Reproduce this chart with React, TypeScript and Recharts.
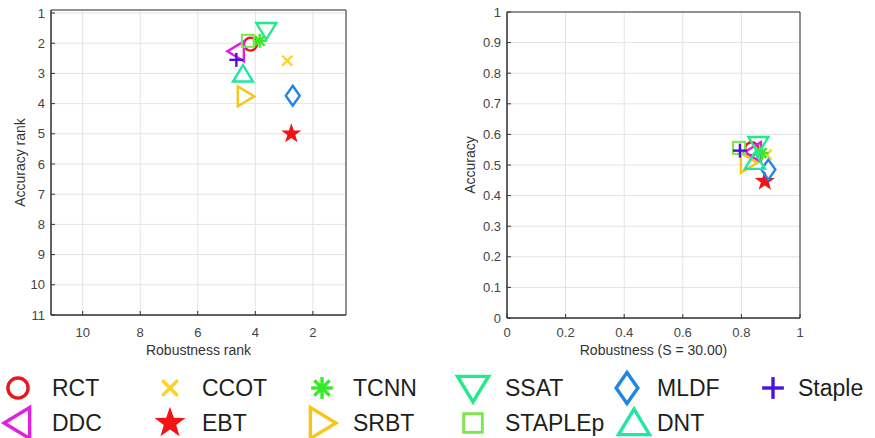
import React from "react"
import { ScatterChart, Scatter, XAxis, YAxis, CartesianGrid, ReferenceArea } from "recharts"

// drawing order = legend column order
const methods = ["RCT", "DDC", "CCOT", "EBT", "TCNN", "SRBT", "SSAT", "STAPLEp", "MLDF", "DNT", "Staple"]
const robustnessRank = [4.17, 4.66, 2.89, 2.75, 3.85, 4.35, 3.62, 4.26, 2.7, 4.43, 4.66]
const accuracyRank = [2.03, 2.27, 2.58, 5.0, 1.92, 3.76, 1.58, 1.92, 3.74, 3.02, 2.55]
const robustness = [0.835, 0.841, 0.886, 0.88, 0.869, 0.824, 0.858, 0.792, 0.892, 0.846, 0.795]
const accuracy = [0.553, 0.542, 0.534, 0.447, 0.539, 0.507, 0.567, 0.556, 0.485, 0.512, 0.547]

const rankXTicks = [2, 4, 6, 8, 10]
const rankYTicks = [1, 2, 3, 4, 5, 6, 7, 8, 9, 10, 11]
const robTicks = [0, 0.2, 0.4, 0.6, 0.8, 1]
const accTicks = [0, 0.1, 0.2, 0.3, 0.4, 0.5, 0.6, 0.7, 0.8, 0.9, 1]

const legendRows = [
  ["RCT", "CCOT", "TCNN", "SSAT", "MLDF", "Staple"],
  ["DDC", "EBT", "SRBT", "STAPLEp", "DNT"],
]

const style: Record<string, { kind: string; color: string }> = {
  RCT: { kind: "o", color: "#e8161e" },
  DDC: { kind: "<", color: "#e21fdf" },
  CCOT: { kind: "x", color: "#ffd126" },
  EBT: { kind: "p", color: "#f01414" },
  TCNN: { kind: "*", color: "#36ea25" },
  SRBT: { kind: ">", color: "#f9c51b" },
  SSAT: { kind: "v", color: "#22ea88" },
  STAPLEp: { kind: "s", color: "#7ce64c" },
  MLDF: { kind: "d", color: "#1f86e6" },
  DNT: { kind: "^", color: "#22e6a4" },
  Staple: { kind: "+", color: "#4a12de" },
}

const font = "'Liberation Sans', Arial, sans-serif"
const tickStyle = { fontSize: 13, fill: "#444", fontFamily: font }

function Mark({ cx, cy, kind, color, k = 1, sw = 2.4 }: any) {
  const p = (pts: number[][]) => pts.map(([a, b]) => `${cx + a * k},${cy + b * k}`).join(" ")
  const line = (x1: number, y1: number, x2: number, y2: number, key?: any) => (
    <line key={key} x1={cx + x1 * k} y1={cy + y1 * k} x2={cx + x2 * k} y2={cy + y2 * k} stroke={color} strokeWidth={sw} />
  )
  switch (kind) {
    case "o":
      return <circle cx={cx} cy={cy} r={6.5 * k} fill="none" stroke={color} strokeWidth={sw} />
    case "s":
      return <rect x={cx - 6 * k} y={cy - 6 * k} width={12 * k} height={12 * k} fill="none" stroke={color} strokeWidth={sw * 0.85} />
    case "d":
      return <polygon points={p([[0, -10], [7, 0], [0, 10], [-7, 0]])} fill="none" stroke={color} strokeWidth={sw} />
    case "v":
      return <polygon points={p([[-10, -7.5], [10, -7.5], [0, 9]])} fill="none" stroke={color} strokeWidth={sw} />
    case "^":
      return <polygon points={p([[-10, 7.5], [10, 7.5], [0, -9]])} fill="none" stroke={color} strokeWidth={sw} />
    case ">":
      return <polygon points={p([[-7.5, -10], [-7.5, 10], [9, 0]])} fill="none" stroke={color} strokeWidth={sw} />
    case "<":
      return <polygon points={p([[7.5, -10], [7.5, 10], [-9, 0]])} fill="none" stroke={color} strokeWidth={sw} />
    case "x":
      return <g>{line(-5, -5, 5, 5, 1)}{line(-5, 5, 5, -5, 2)}</g>
    case "+":
      return <g>{line(-7, 0, 7, 0, 1)}{line(0, -7, 0, 7, 2)}</g>
    case "*": {
      const r = 7
      return (
        <g>
          {[0, 45, 90, 135].map((a, i) => {
            const c = Math.cos((a * Math.PI) / 180) * r
            const s = Math.sin((a * Math.PI) / 180) * r
            return line(-c, -s, c, s, i)
          })}
        </g>
      )
    }
    case "p": {
      const pts: number[][] = []
      for (let i = 0; i < 10; i++) {
        const r = i % 2 === 0 ? 10.5 : 4.2
        const a = -Math.PI / 2 + (i * Math.PI) / 5
        pts.push([Math.cos(a) * r, Math.sin(a) * r])
      }
      return <polygon points={p(pts)} fill={color} stroke="none" />
    }
  }
  return null
}

const yLabel = (text: string, x: number) => (props: any) => {
  const vb = props.viewBox
  const cy = vb.y + vb.height / 2
  return (
    <text x={x} y={cy} transform={`rotate(-90 ${x} ${cy})`} textAnchor="middle" dominantBaseline="central"
      style={{ fontSize: 14, fill: "#333", fontFamily: font }}>
      {text}
    </text>
  )
}

const axisLabelStyle = { fontSize: 14, fill: "#333", fontFamily: font }

function RankChart() {
  return (
    <ScatterChart width={360} height={360} margin={{ top: 10, right: 14, left: 0, bottom: 0 }}>
      <CartesianGrid stroke="#e4e4e4" />
      <XAxis type="number" dataKey="x" domain={[0.85, 11.1]} reversed ticks={rankXTicks} allowDataOverflow
        height={45} tickLine={{ stroke: "#333" }} tickSize={-4} tickMargin={17} axisLine={{ stroke: "#333" }} tick={tickStyle}
        label={{ value: "Robustness rank", position: "insideBottom", offset: 5, style: axisLabelStyle }} />
      <YAxis type="number" dataKey="y" domain={[0.9, 11]} reversed ticks={rankYTicks} allowDataOverflow interval={0}
        width={51} tickLine={{ stroke: "#333" }} tickSize={-4} tickMargin={10} axisLine={{ stroke: "#333" }} tick={tickStyle}
        label={{ content: yLabel("Accuracy rank", 20) }} />
      <ReferenceArea x1={0.85} x2={11.1} y1={0.9} y2={11} fill="none" stroke="#333" strokeOpacity={1} />
      {methods.map((m, i) => (
        <Scatter key={m} name={m} data={[{ x: robustnessRank[i], y: accuracyRank[i] }]} isAnimationActive={false}
          shape={(pr: any) => <Mark cx={pr.cx} cy={pr.cy} kind={style[m].kind} color={style[m].color} />} />
      ))}
    </ScatterChart>
  )
}

function ScoreChart() {
  return (
    <ScatterChart width={375} height={360} margin={{ top: 12, right: 15, left: 0, bottom: 0 }}>
      <CartesianGrid stroke="#e4e4e4" />
      <XAxis type="number" dataKey="x" domain={[0, 1]} ticks={robTicks} allowDataOverflow
        height={42} tickLine={{ stroke: "#333" }} tickSize={-4} tickMargin={14} axisLine={{ stroke: "#333" }} tick={tickStyle}
        label={{ value: "Robustness (S = 30.00)", position: "insideBottom", offset: 5, style: axisLabelStyle }} />
      <YAxis type="number" dataKey="y" domain={[0, 1]} ticks={accTicks} allowDataOverflow interval={0}
        width={67} tickLine={{ stroke: "#333" }} tickSize={-4} tickMargin={10} axisLine={{ stroke: "#333" }} tick={tickStyle}
        label={{ content: yLabel("Accuracy", 30) }} />
      <ReferenceArea x1={0} x2={1} y1={0} y2={1} fill="none" stroke="#333" strokeOpacity={1} />
      {methods.map((m, i) => (
        <Scatter key={m} name={m} data={[{ x: robustness[i], y: accuracy[i] }]} isAnimationActive={false}
          shape={(pr: any) => <Mark cx={pr.cx} cy={pr.cy} kind={style[m].kind} color={style[m].color} />} />
      ))}
    </ScatterChart>
  )
}

const colMarkX = [18, 170, 322, 473, 627, 773]
const colTextX = [52, 202, 353, 505, 657, 798]
const rowY = [28, 63]

function LegendBox() {
  return (
    <svg width={875} height={78} style={{ position: "absolute", left: 0, top: 360 }}>
      {legendRows.map((row, r) =>
        row.map((m, c) => (
          <g key={m}>
            <Mark cx={colMarkX[c] + (m === "DNT" ? 7 : 0)} cy={rowY[r]} kind={style[m].kind} color={style[m].color} k={1.55} sw={3.4} />
            <text x={colTextX[c]} y={rowY[r]} dominantBaseline="central"
              style={{ fontSize: 23, fill: "#1e1e1e", fontFamily: font }}>
              {m}
            </text>
          </g>
        ))
      )}
    </svg>
  )
}

export default function App() {
  return (
    <div style={{ position: "absolute", left: 0, top: 0, width: 875, height: 438, background: "#fff", overflow: "hidden" }}>
      <div style={{ position: "absolute", left: 0, top: 0 }}>
        <RankChart />
      </div>
      <div style={{ position: "absolute", left: 440, top: 0 }}>
        <ScoreChart />
      </div>
      <LegendBox />
    </div>
  )
}
